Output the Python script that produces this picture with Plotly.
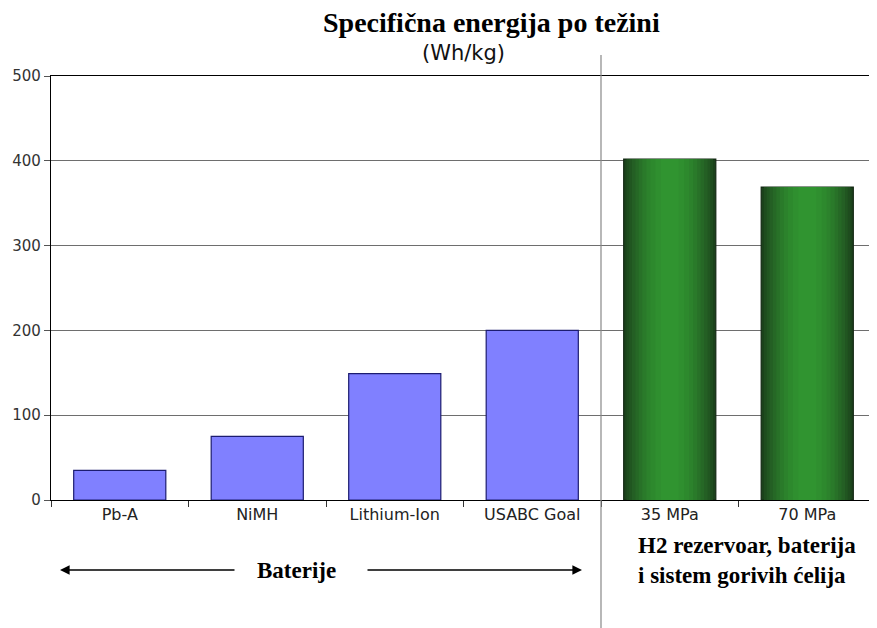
import plotly.graph_objects as go

categories = ["Pb-A", "NiMH", "Lithium-Ion", "USABC Goal", "35 MPa", "70 MPa"]
battery_names = categories[:4]
battery_values = [35, 75, 149, 200]
h2_names = categories[4:]
h2_values = [402, 369]

fig = go.Figure()

# batteries - flat blue bars
fig.add_trace(go.Bar(x=battery_names, y=battery_values, width=0.67,
                     marker=dict(color="#8080ff", line=dict(color="#1c1c70", width=1.2)),
                     showlegend=False, hoverinfo="x+y"))

# H2 bars - fake a cylinder shading with narrower overlaid bars
shades = [("#1b421b", 0.67), ("#1e4c1e", 0.63), ("#215621", 0.59), ("#245f24", 0.55),
          ("#266826", 0.50), ("#287128", 0.45), ("#2a7a2a", 0.40), ("#2c822c", 0.34),
          ("#2d892d", 0.28), ("#2f8f2f", 0.21), ("#309430", 0.13)]
for i, (col, w) in enumerate(shades):
    fig.add_trace(go.Bar(x=h2_names, y=h2_values, width=w,
                         marker=dict(color=col,
                                     line=dict(color="#142814", width=1.2 if i == 0 else 0)),
                         showlegend=False, hoverinfo="x+y"))

# page has an 8px body margin, so the figure is 8px smaller than the window
OFF = 8
W, H = 869, 620
L, R, T, B = 43, 1, 68, 128
pw, ph = W - L - R, H - T - B

def px(x):
    return (x - OFF - L) / pw

def py(y):
    return (H - B - (y - OFF)) / ph

sans = "DejaVu Sans, Arial"
serif = "Liberation Serif, Times New Roman"

fig.update_layout(
    width=W, height=H, barmode="overlay",
    margin=dict(l=L, r=R, t=T, b=B),
    paper_bgcolor="white", plot_bgcolor="white",
    font=dict(family=sans, size=14, color="#222"),
    xaxis=dict(categoryorder="array", categoryarray=categories,
               showline=True, linecolor="black", linewidth=1.2, mirror=True,
               ticks="outside", tickson="boundaries", ticklen=6, tickcolor="#333",
               tickfont=dict(family=sans, size=16, color="#222"), showgrid=False),
    yaxis=dict(range=[0, 500], dtick=100, showline=True, linecolor="black", linewidth=1.2,
               ticks="outside", ticklen=6, tickcolor="#555",
               tickfont=dict(family=sans, size=15, color="#333"),
               showgrid=True, gridcolor="#6e6e6e", gridwidth=1.3, zeroline=False),
)

# divider between the two groups
fig.add_shape(type="line", xref="x", yref="paper", x0=3.5, x1=3.5,
              y0=py(630), y1=py(55), line=dict(color="#888", width=1.2))

fig.add_annotation(text="<b>Specifična energija po težini</b>", x=px(491), y=py(22),
                   xref="paper", yref="paper", showarrow=False,
                   xanchor="center", yanchor="middle",
                   font=dict(family=serif, size=28, color="black"))
fig.add_annotation(text="(Wh/kg)", x=px(463), y=py(53),
                   xref="paper", yref="paper", showarrow=False,
                   xanchor="center", yanchor="middle",
                   font=dict(family=sans, size=21, color="#111"))

fig.add_annotation(text="<b>Baterije</b>", x=px(296), y=py(570),
                   xref="paper", yref="paper", showarrow=False,
                   xanchor="center", yanchor="middle",
                   font=dict(family=serif, size=23, color="black"))
# arrows either side of "Baterije"
fig.add_annotation(text="", x=px(60), y=py(570), xref="paper", yref="paper",
                   ax=176, ay=0, showarrow=True, arrowhead=2, arrowsize=1.2,
                   arrowwidth=1.6, arrowcolor="black")
fig.add_annotation(text="", x=px(582), y=py(570), xref="paper", yref="paper",
                   ax=-216, ay=0, showarrow=True, arrowhead=2, arrowsize=1.2,
                   arrowwidth=1.6, arrowcolor="black")

fig.add_annotation(text="<b>H2 rezervoar, baterija<br>i sistem gorivih ćelija</b>",
                   x=px(636), y=py(560), xref="paper", yref="paper", showarrow=False,
                   xanchor="left", yanchor="middle", align="left",
                   font=dict(family=serif, size=23, color="black"))

fig.write_html("out.html")
